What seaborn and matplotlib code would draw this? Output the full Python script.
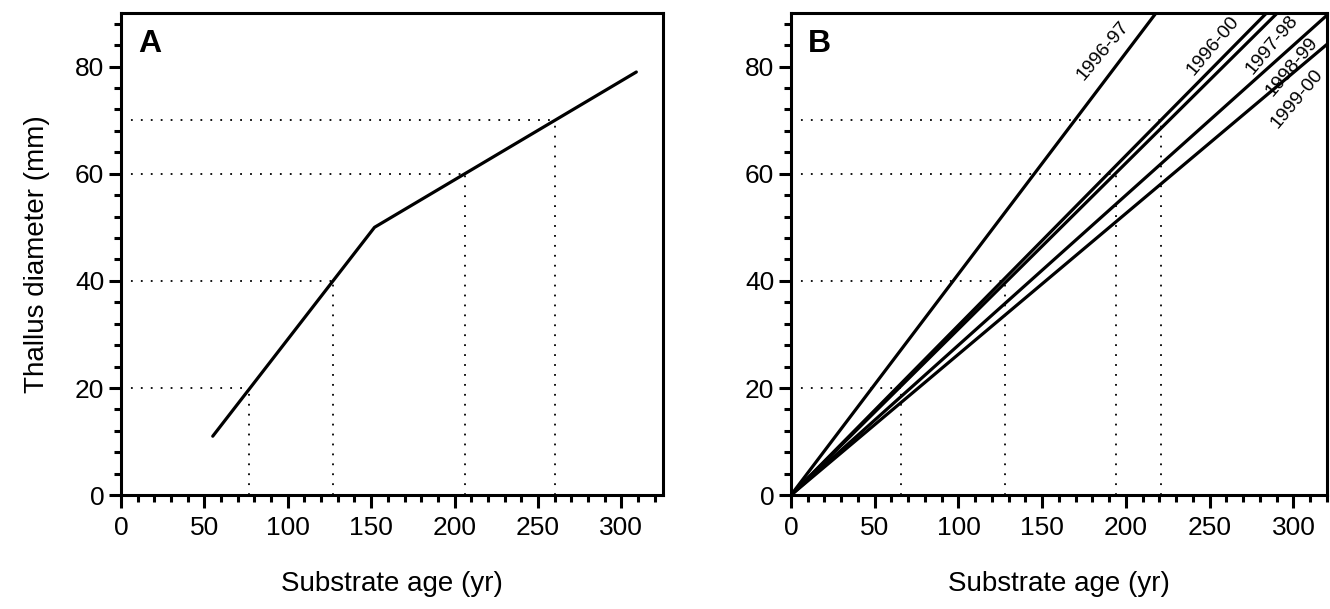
import numpy as np
import pandas as pd
import matplotlib
matplotlib.use("Agg")
import matplotlib.pyplot as plt
from matplotlib.ticker import MultipleLocator
import seaborn as sns

# Panel A: piecewise growth curve (age yr, diameter mm)
curve_age = [55, 152, 309]
curve_diam = [11, 50, 79]
guide_diam = [20, 40, 60, 70]
guide_age_a = [77, 127, 206, 260]

# Panel B: linear growth rates (mm/yr) by measuring period
periods = ["1996-97", "1996-00", "1997-98", "1998-99", "1999-00"]
rates = [0.413, 0.317, 0.310, 0.280, 0.263]
guide_age_b = [66, 128, 194, 221]

sns.set_style("ticks")
plt.rcParams["font.family"] = ["Liberation Sans", "DejaVu Sans"]
plt.rcParams["axes.linewidth"] = 2.2
plt.rcParams["text.color"] = "black"
plt.rcParams["axes.labelcolor"] = "black"
plt.rcParams["xtick.color"] = "black"
plt.rcParams["ytick.color"] = "black"

fig = plt.figure(figsize=(13.3, 6.09), dpi=100)
ax_a = fig.add_axes([0.091, 0.187, 0.4075, 0.7915])
ax_b = fig.add_axes([0.5947, 0.187, 0.403, 0.7915])

dot = dict(color="black", linestyle=(0, (1, 4.5)), linewidth=1.3)


def style_axis(ax, xmax, letter):
    ax.set_xlim(0, xmax)
    ax.set_ylim(0, 90)
    ax.xaxis.set_major_locator(MultipleLocator(50))
    ax.xaxis.set_minor_locator(MultipleLocator(10))
    ax.yaxis.set_major_locator(MultipleLocator(20))
    ax.yaxis.set_minor_locator(MultipleLocator(4))
    ax.tick_params(which="major", length=9, width=2.2, labelsize=19, pad=3)
    ax.tick_params(which="minor", length=5, width=2.2)
    ax.tick_params(axis="x", which="major", pad=6)
    for s in ax.spines.values():
        s.set_visible(True)
        s.set_color("black")
    ax.set_xlabel("Substrate age (yr)", fontsize=20, labelpad=22)
    ax.text(0.032, 0.968, letter, transform=ax.transAxes, fontsize=23,
            fontweight="bold", va="top", ha="left")


# ---- Panel A
dfa = pd.DataFrame({"age": curve_age, "diam": curve_diam})
sns.lineplot(data=dfa, x="age", y="diam", ax=ax_a, color="black",
             linewidth=2.3, sort=False)
for xa, yd in zip(guide_age_a, guide_diam):
    ax_a.hlines(yd, 0, xa, **dot)
    ax_a.vlines(xa, 0, yd, **dot)
style_axis(ax_a, 325, "A")
ax_a.set_ylabel("Thallus diameter (mm)", fontsize=20, labelpad=18)

# ---- Panel B
xs = np.array([0, 320])
rows = []
for p, r in zip(periods, rates):
    for x in xs:
        rows.append({"period": p, "age": x, "diam": r * x})
dfb = pd.DataFrame(rows)
sns.lineplot(data=dfb, x="age", y="diam", units="period", estimator=None,
             ax=ax_b, color="black", linewidth=2.3, legend=False)
for xa, yd in zip(guide_age_b, guide_diam):
    ax_b.hlines(yd, 0, xa, **dot)
    ax_b.vlines(xa, 0, yd, **dot)
style_axis(ax_b, 320, "B")
ax_b.set_ylabel("")

label_pos = {"1996-97": (186, 83), "1996-00": (252, 84), "1997-98": (287, 84),
             "1998-99": (299, 80), "1999-00": (302, 74)}
for p in periods:
    lx, ly = label_pos[p]
    ax_b.text(lx, ly, p, fontsize=14, rotation=50, ha="center", va="center",
              rotation_mode="anchor")

fig.savefig("out.png", dpi=100)
